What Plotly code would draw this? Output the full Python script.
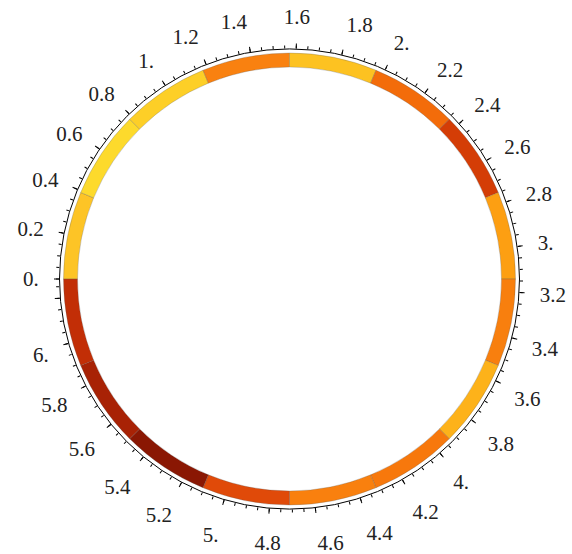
import math
import plotly.graph_objects as go

# Segment start angles (radians) and widths (radians)
seg_start = [0.0, 0.3927, 0.7854, 1.1781, 1.5708, 1.9635, 2.3562, 2.7489,
             3.1416, 3.5343, 3.9270, 4.3197, 4.7124, 5.1051, 5.4978, 5.8905]
seg_width = [0.3927] * 16
seg_colors = ["#FDC426", "#FDDA2C", "#FDCF27", "#F98110", "#FDC221", "#F36C0A",
              "#D43D06", "#FD9F12", "#F87F0E", "#FDB21A", "#F7780C", "#F9800E",
              "#E04A09", "#8A1703", "#A82205", "#C22E06"]

major_vals = [0.0, 0.2, 0.4, 0.6, 0.8, 1.0, 1.2, 1.4, 1.6, 1.8, 2.0, 2.2, 2.4,
              2.6, 2.8, 3.0, 3.2, 3.4, 3.6, 3.8, 4.0, 4.2, 4.4, 4.6, 4.8, 5.0,
              5.2, 5.4, 5.6, 5.8, 6.0, 6.2]
major_text = ["0.", "0.2", "0.4", "0.6", "0.8", "1.", "1.2", "1.4", "1.6", "1.8",
              "2.", "2.2", "2.4", "2.6", "2.8", "3.", "3.2", "3.4", "3.6", "3.8",
              "4.", "4.2", "4.4", "4.6", "4.8", "5.", "5.2", "5.4", "5.6", "5.8",
              "6.", ""]
minor_step = 0.05

ring_inner = 212
ring_thick = 14
axis_r = 230

deg = lambda r: r * 180.0 / math.pi

theta_c = [deg(s + w / 2) for s, w in zip(seg_start, seg_width)]
width_d = [deg(w) for w in seg_width]

fig = go.Figure()
fig.add_trace(go.Barpolar(
    r=[ring_thick] * len(seg_start), base=[ring_inner] * len(seg_start),
    theta=theta_c, width=width_d,
    marker=dict(color=seg_colors, line=dict(color="rgba(90,90,90,0.45)", width=0.6)),
    subplot="polar", hoverinfo="skip", showlegend=False))

minor_vals = [i * minor_step for i in range(int(2 * math.pi / minor_step) + 1)]

fig.add_trace(go.Scatterpolar(r=[0], theta=[0], mode="markers",
                              marker=dict(opacity=0), subplot="polar2",
                              hoverinfo="skip", showlegend=False))
fig.add_trace(go.Scatterpolar(r=[0], theta=[0], mode="markers",
                              marker=dict(opacity=0), subplot="polar3",
                              hoverinfo="skip", showlegend=False))

W, H = 572, 554
cx, cy = 289.5, 279
dom_x = [(cx - axis_r) / W, (cx + axis_r) / W]
dom_y = [1 - (cy + axis_r) / H, 1 - (cy - axis_r) / H]

font = dict(family="Liberation Serif, Times New Roman, serif", size=21, color="#222")

common_radial = dict(range=[0, axis_r], visible=False)

fig.update_layout(
    width=W, height=H, margin=dict(l=0, r=0, t=0, b=0),
    paper_bgcolor="white", plot_bgcolor="white",
    font=font,
    polar=dict(
        domain=dict(x=dom_x, y=dom_y), bgcolor="white",
        radialaxis=common_radial,
        angularaxis=dict(rotation=180, direction="clockwise",
                         tickmode="array", tickvals=[deg(v) for v in major_vals],
                         ticktext=major_text, ticks="outside", ticklen=16,
                         tickcolor="rgba(0,0,0,0)", showgrid=False,
                         showline=True, linecolor="black", linewidth=1,
                         tickfont=font),
    ),
    polar2=dict(
        domain=dict(x=dom_x, y=dom_y), bgcolor="rgba(0,0,0,0)",
        radialaxis=common_radial,
        angularaxis=dict(rotation=180, direction="clockwise",
                         tickmode="array", tickvals=[deg(v) for v in major_vals],
                         showticklabels=False, ticks="outside", ticklen=5,
                         tickwidth=1, tickcolor="black", showgrid=False,
                         showline=False),
    ),
    polar3=dict(
        domain=dict(x=dom_x, y=dom_y), bgcolor="rgba(0,0,0,0)",
        radialaxis=common_radial,
        angularaxis=dict(rotation=180, direction="clockwise",
                         tickmode="array", tickvals=[deg(v) for v in minor_vals],
                         showticklabels=False, ticks="outside", ticklen=3,
                         tickwidth=0.8, tickcolor="black", showgrid=False,
                         showline=False),
    ),
)

fig.write_html(
    "out.html",
    config={"displayModeBar": False},
    post_script="document.body.style.margin='0';document.body.style.overflow='hidden';",
)
